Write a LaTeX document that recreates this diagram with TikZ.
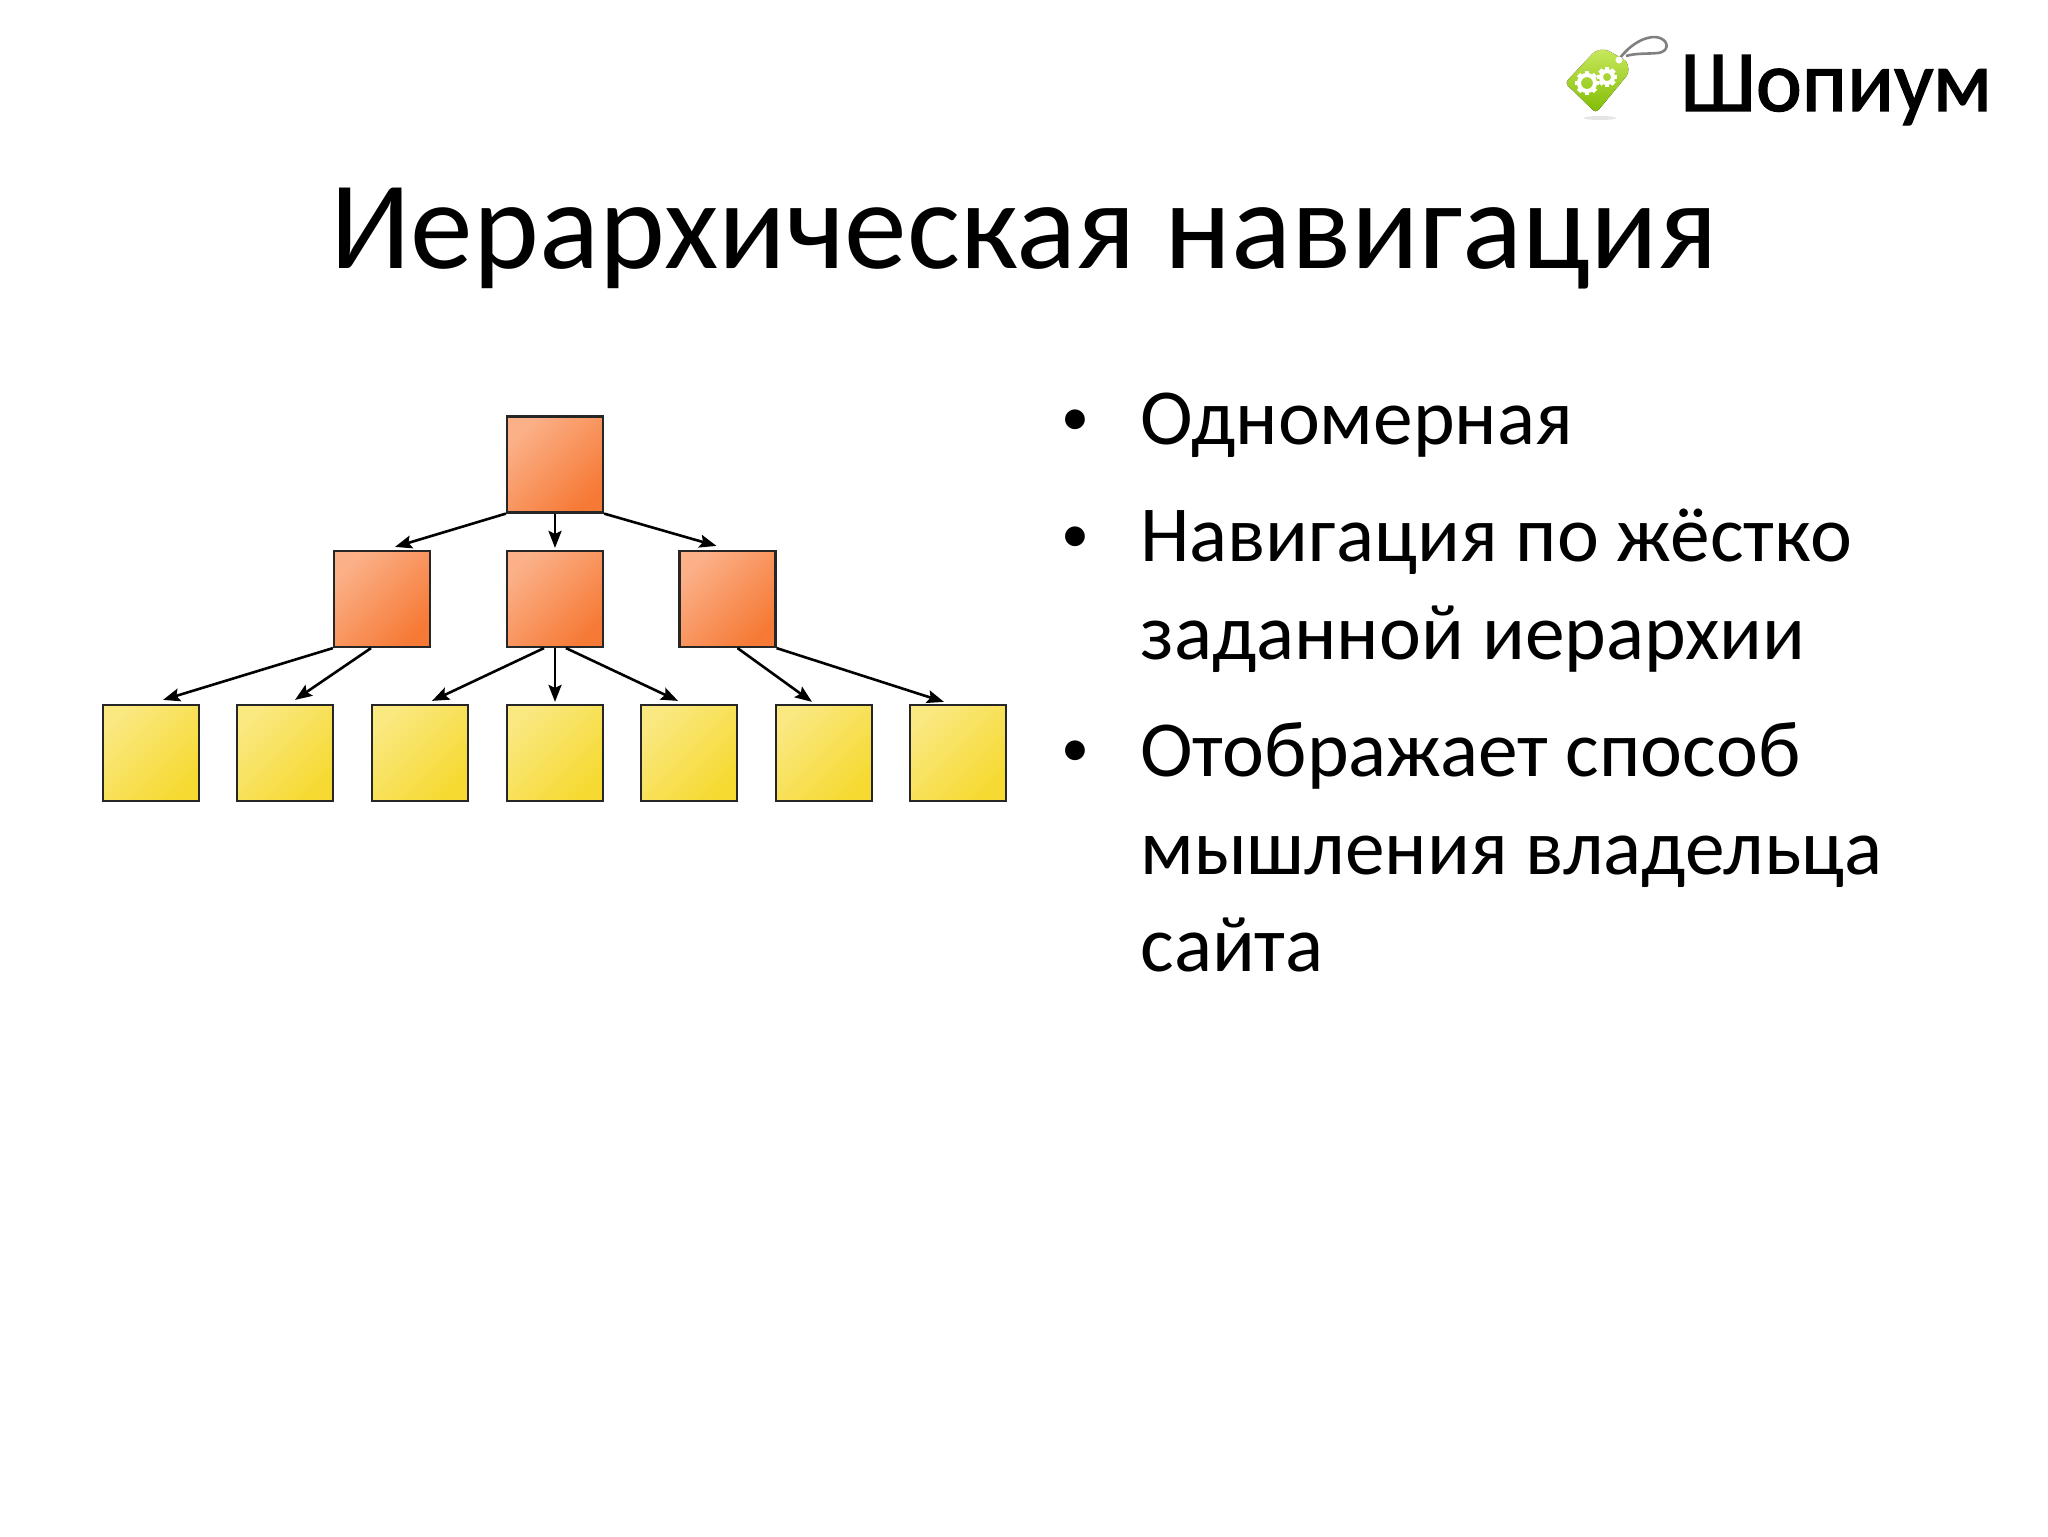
\documentclass[tikz,border=0pt]{standalone}
\usepackage{fontspec}
\setmainfont{Carlito}
\newfontfamily\brandfont[FakeBold=1.6]{Carlito}
\usetikzlibrary{arrows.meta}
\definecolor{orgA}{HTML}{FBB088}
\definecolor{orgB}{HTML}{F67A36}
\definecolor{yelA}{HTML}{FAE880}
\definecolor{yelB}{HTML}{F6DA32}
\definecolor{tagA}{HTML}{C8E85C}
\definecolor{tagB}{HTML}{80BC04}
\tikzset{
  orangebox/.style={draw=black!85,line width=1.1pt,inner sep=0pt,minimum width=48pt,minimum height=48pt,top color=orgA,bottom color=orgB,shading angle=45},
  yellowbox/.style={draw=black!85,line width=1.1pt,inner sep=0pt,minimum width=48pt,minimum height=48pt,top color=yelA,bottom color=yelB,shading angle=45},
  link/.style={draw=black,line width=1.3pt,-{Stealth[length=8.5pt,width=6.5pt,inset=1.5pt]}},
  bodytext/.style={anchor=base west,inner sep=0pt,font=\fontsize{39.7pt}{39.7pt}\selectfont,text=black},
  bulletmark/.style={anchor=base,inner sep=0pt,font=\fontsize{28pt}{28pt}\selectfont},
}
\begin{document}
\begin{tikzpicture}[x=0.5pt,y=-0.5pt]
\useasboundingbox (0,0) rectangle (2048,1536);
\fill[white] (0,0) rectangle (2048,1536);
% logo
\fill[black!10] (1600,118) ellipse [x radius=16,y radius=2];
\draw[gray,line width=1.3pt] (1620,58) .. controls (1632,42) and (1650,34) .. (1660,38) .. controls (1670,42) and (1668,52) .. (1658,53) .. controls (1648,54) and (1636,53) .. (1626,56);
\fill[top color=tagA,bottom color=tagB,rounded corners=2pt] (1605,49) -- (1627,61) -- (1629,73) -- (1596,113) -- (1565,83) -- (1595,51) -- cycle;
\fill[white] (1619,60) circle [radius=3.5];
\foreach \cx/\cy/\r in {1587/83/8,1607/77/6}{
  \draw[white,line width=2pt] (\cx,\cy) circle [radius=\r];
  \foreach \a in {0,45,...,315}
    \draw[white,line width=2.4pt] (\cx,\cy) ++(\a:\r) -- ++(\a:4);
}
\node[anchor=base west,inner sep=0pt,font=\brandfont\fontsize{43.5pt}{43.5pt}\selectfont] (brand) at (1680,111) {Шопиум};
% title
\node[anchor=base,inner sep=0pt,font=\fontsize{62.7pt}{62.7pt}\selectfont] (title) at (1024,268) {Иерархическая навигация};
% boxes
\node[orangebox] (root) at (555,464.5) {};
\node[orangebox] (ml) at (382,599) {};
\node[orangebox] (mc) at (555,599) {};
\node[orangebox] (mr) at (727.5,599) {};
\foreach \n/\x in {a/151,b/285,c/420,d/555,e/689,f/824,g/958}
  \node[yellowbox] (\n) at (\x,753) {};
% connectors
\draw[link] (root.south west) -- ([xshift=6.5pt,yshift=1.5pt]ml.north);
\draw[link] (root.south) -- ([yshift=1pt]mc.north);
\draw[link] (root.south east) -- ([xshift=-5.5pt,yshift=2pt]mr.north);
\draw[link] (ml.south west) -- ([xshift=6pt,yshift=2pt]a.north);
\draw[link] ([xshift=-5.5pt]ml.south) -- ([xshift=5pt,yshift=2pt]b.north);
\draw[link] ([xshift=-5.5pt]mc.south) -- ([xshift=6pt,yshift=1.5pt]c.north);
\draw[link] (mc.south) -- ([yshift=1pt]d.north);
\draw[link] ([xshift=5.5pt]mc.south) -- ([xshift=-5.5pt,yshift=1.5pt]e.north);
\draw[link] ([xshift=5pt]mr.south) -- ([xshift=-6pt,yshift=1pt]f.north);
\draw[link] (mr.south east) -- ([xshift=-7pt,yshift=1pt]g.north);
% bullets
\foreach \y in {435,552,766}
  \node[bulletmark] at (1075.5,\y) {•};
\node[bodytext] (t1) at (1140,444.5) {Одномерная};
\node[bodytext] (t2) at (1140,561) {Навигация по жёстко};
\node[bodytext] (t3) at (1140,659) {заданной иерархии};
\node[bodytext] (t4) at (1140,776) {Отображает способ};
\node[bodytext] (t5) at (1140,874) {мышления владельца};
\node[bodytext] (t6) at (1140,971) {сайта};
\end{tikzpicture}
\end{document}
